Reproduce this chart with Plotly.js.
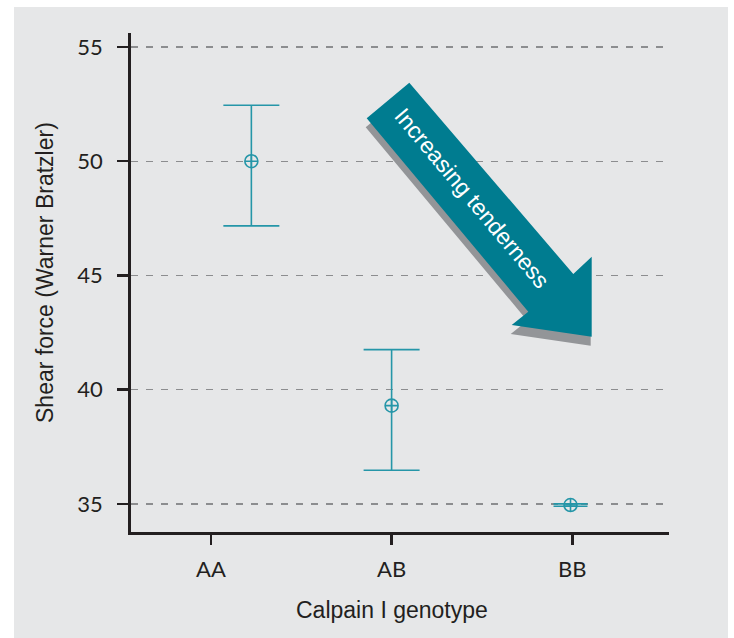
<!DOCTYPE html>
<html>
<head>
<meta charset="utf-8">
<script src="https://cdn.plot.ly/plotly-3.0.1.min.js"></script>
<style>html,body{margin:0;padding:0;background:#fff;}#chart{width:734px;height:638px;}</style>
</head>
<body>
<div id="chart"></div>
<script>
// ---- data ----
var categories = ["AA", "AB", "BB"];
var means = [50.0, 39.3, 34.95];
var upperLimits = [52.45, 41.75, 35.0];
var lowerLimits = [47.17, 36.47, 34.9];
var yTickValues = [35, 40, 45, 50, 55];

// ---- styling / layout helpers ----
var W = 734, H = 638;
var M = {l: 131, r: 65, t: 33, b: 106};
var PW = W - M.l - M.r, PH = H - M.t - M.b;
function px(x) { return (x - M.l) / PW; }
function py(y) { return (H - M.b - y) / PH; }
var teal = "#2596a8";
var dark = "#231f20";
// horizontal placement of each group relative to its category tick
var catShift = [0.224, 0, -0.01];
var capHalf = [28, 28, 17];

var traces = categories.map(function (c, i) {
  return {
    type: "scatter",
    mode: "markers",
    x: [i + catShift[i]],
    y: [means[i]],
    error_y: {
      type: "data", symmetric: false,
      array: [upperLimits[i] - means[i]],
      arrayminus: [means[i] - lowerLimits[i]],
      color: teal, thickness: 1.6, width: capHalf[i]
    },
    marker: {symbol: "circle-cross-open", size: 13, color: teal, line: {width: 1.6, color: teal}},
    hoverinfo: "x+y",
    showlegend: false
  };
});

function poly(pts, dx, dy) {
  return pts.map(function (p, k) {
    return (k === 0 ? "M" : "L") + px(p[0] + dx).toFixed(5) + "," + py(p[1] + dy).toFixed(5);
  }).join(" ") + " Z";
}
var arrowPts = [[366.7, 118.3], [409.3, 82.7], [573.3, 274], [591.7, 256.7], [591.7, 336.7], [511.7, 325], [528.3, 311.7]];

var layout = {
  width: W, height: H,
  margin: M,
  paper_bgcolor: "#ffffff",
  plot_bgcolor: "rgba(0,0,0,0)",
  font: {family: "Liberation Sans, Arial, sans-serif", color: dark},
  xaxis: {
    range: [-0.442, 2.535],
    tickvals: categories.map(function (c, i) { return i; }),
    ticktext: categories,
    showgrid: false, zeroline: false,
    showline: true, linecolor: dark, linewidth: 2.8,
    ticks: "outside", ticklen: 10, tickwidth: 2.5, tickcolor: dark,
    tickfont: {family: "Lato, Open Sans, sans-serif", size: 22, color: dark},
    ticklabelstandoff: 6,
    fixedrange: true
  },
  yaxis: {
    range: [33.77, 55.61],
    tickvals: yTickValues,
    ticktext: yTickValues.map(String),
    showgrid: true, gridcolor: "#8c8d8f", gridwidth: 1.2, griddash: "7px,8px",
    zeroline: false,
    showline: true, linecolor: dark, linewidth: 2.8,
    ticks: "outside", ticklen: 11, tickwidth: 2.5, tickcolor: dark,
    tickfont: {family: "Lato, Open Sans, sans-serif", size: 22, color: dark},
    ticklabelstandoff: 10,
    fixedrange: true
  },
  shapes: [
    {type: "rect", xref: "paper", yref: "paper", layer: "below",
     x0: px(14), x1: px(728), y0: py(638), y1: py(7),
     fillcolor: "#e6e7e8", line: {width: 0}},
    {type: "path", xref: "paper", yref: "paper", layer: "above",
     path: poly(arrowPts, -1, 9), fillcolor: "#939598", line: {width: 0}},
    {type: "path", xref: "paper", yref: "paper", layer: "above",
     path: poly(arrowPts, 0, 0), fillcolor: "#007c90", line: {width: 0}}
  ],
  annotations: [
    {text: "Calpain I genotype", xref: "paper", yref: "paper",
     x: px(392), y: py(610), xanchor: "center", yanchor: "middle", showarrow: false,
     font: {family: "Liberation Sans, Arial, sans-serif", size: 23, color: dark}},
    {text: "Shear force (Warner Bratzler)", xref: "paper", yref: "paper",
     x: px(45), y: py(273), xanchor: "center", yanchor: "middle", showarrow: false, textangle: -90,
     font: {family: "Liberation Sans, Arial, sans-serif", size: 23, color: dark}},
    {text: "Increasing tenderness", xref: "paper", yref: "paper",
     x: px(472), y: py(198), xanchor: "center", yanchor: "middle", showarrow: false, textangle: 50,
     font: {family: "Liberation Sans, Arial, sans-serif", size: 23, color: "#ffffff"}}
  ]
};

Plotly.newPlot("chart", traces, layout, {displayModeBar: false, staticPlot: true});
</script>
</body>
</html>
